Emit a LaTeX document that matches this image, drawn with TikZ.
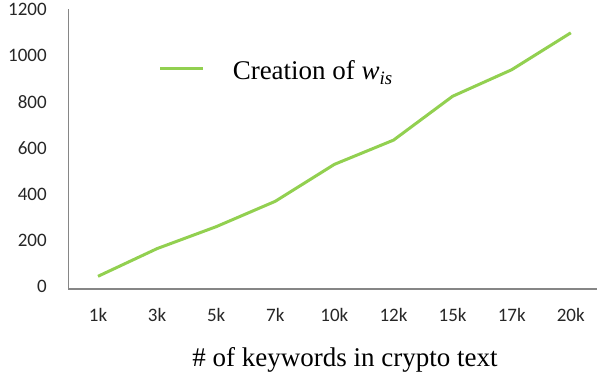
\documentclass[tikz,border=0pt]{standalone}
\usepackage{fontspec}
\setmainfont{Liberation Serif}
\newfontfamily\tickfont{Carlito}
\usetikzlibrary{positioning}
\definecolor{plgreen}{RGB}{146,208,80}
\definecolor{plgray}{RGB}{134,134,134}
\tikzset{every picture/.style={line width=0.75pt}}
\tikzset{
  plaxis/.style  ={draw=plgray, line width=0.8pt},
  plline/.style  ={draw=plgreen, line width=1.5pt, line join=round},
  pltick/.style  ={font=\tickfont\fontsize{9.5}{11}\selectfont, text=black!85, inner sep=0pt},
  pltext/.style  ={font=\fontsize{13.5}{16}\selectfont, inner sep=0pt},
}

\begin{document}
\begin{tikzpicture}
        \useasboundingbox (0,0) rectangle (299pt,189pt);
        \begin{scope}[shift={(19.45pt,44.5pt)}, x=29.55pt, y=0.1154pt]
        % axes
        \coordinate (o) at (0.5,0);
        \coordinate (ytop) at (0.5,1212);
        \coordinate (xend) at (9.45,0);
        \draw[plaxis] (ytop) -- (o) -- (xend);
        % y ticks
        \foreach \v in {0,200,...,1200}
          \node[pltick, anchor=east, xshift=-10.5pt, yshift=1.2pt] (y\v) at (0.5,\v) {\v};
        % x ticks
        \foreach \k [count=\i] in {1k,3k,5k,7k,10k,12k,15k,17k,20k}
          \node[pltick, yshift=-12.75pt] (x\i) at (\i,0) {\k};
        % data
        \foreach \v [count=\i] in {55,175,270,380,540,645,835,950,1110}
          \coordinate (p\i) at (\i,\v);
        \draw[plline] (p1) \foreach \i in {2,...,9} {-- (p\i)};
        \end{scope}
        % legend
        \coordinate (lga) at (80pt,154.5pt);
        \coordinate (lgb) at (101.5pt,154.5pt);
        \draw[plline] (lga) -- (lgb);
        \node[pltext, anchor=base west] (lgtext) at (116pt,149pt) {Creation of \textit{w}\textsubscript{\textit{is}}};
        % axis title
        \node[pltext, anchor=base] (xtitle) at (172.5pt,5.5pt) {\# of keywords in crypto text};
\end{tikzpicture}
\end{document}
